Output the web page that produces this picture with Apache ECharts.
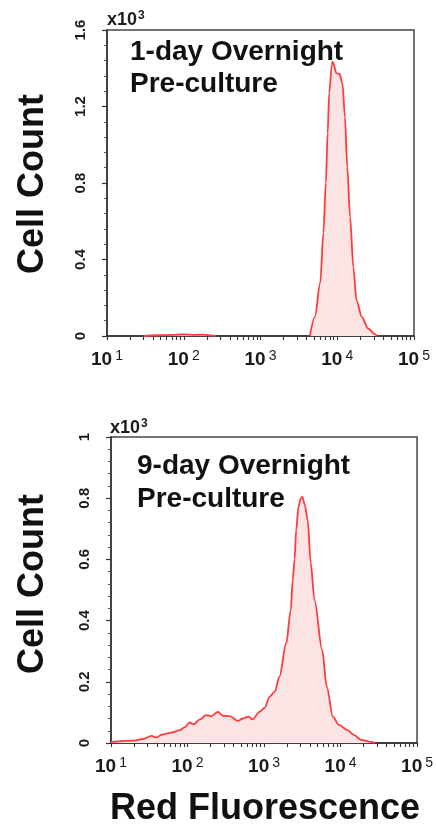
<!DOCTYPE html>
<html>
<head>
<meta charset="utf-8">
<script src="https://cdn.jsdelivr.net/npm/echarts@6/dist/echarts.min.js"></script>
<style>
  html, body { margin: 0; padding: 0; background: #fff; }
  #chart { width: 436px; height: 830px; }
</style>
</head>
<body>
<div id="chart"></div>
<script>
// fluorescence (x) vs cell count in thousands (y)
const day1Counts = [
  [30, 0], [45, 0.004], [70, 0.006], [100, 0.008], [140, 0.006], [180, 0.007], [230, 0.003], [260, 0],
  [300, '-'],
  [4400, 0], [5100, 0.099], [6000, 0.277], [6600, 0.54], [7100, 0.80], [7500, 1.06], [7850, 1.27],
  [8500, 1.417], [8700, 1.434], [9800, 1.373], [10700, 1.37], [11700, 1.32], [12600, 1.145],
  [13500, 0.884], [14700, 0.622], [16200, 0.36], [17800, 0.188], [20900, 0.10], [25100, 0.04],
  [30900, 0.01], [33100, 0]
];
const day9Counts = [
  [10, 0.004], [20, 0.008], [26, 0.013], [34, 0.023], [39, 0.018], [46, 0.027], [62, 0.034],
  [79, 0.042], [91, 0.051], [107, 0.067], [120, 0.061], [145, 0.077], [174, 0.091], [204, 0.088],
  [251, 0.102], [288, 0.089], [355, 0.088], [457, 0.072], [525, 0.080], [631, 0.086], [708, 0.077],
  [871, 0.102], [1020, 0.115], [1180, 0.151], [1380, 0.168], [1590, 0.217], [1950, 0.326],
  [2240, 0.435], [2370, 0.533], [2510, 0.60], [2630, 0.696], [2820, 0.772], [3000, 0.798],
  [3160, 0.805], [3400, 0.78], [3720, 0.729], [4070, 0.59], [4570, 0.467], [5750, 0.304],
  [6610, 0.184], [7940, 0.086], [9550, 0.059], [12300, 0.042], [15100, 0.026], [18600, 0.010],
  [25100, 0.004], [28000, 0]
];
const panelTitles = ['1-day Overnight\nPre-culture', '9-day Overnight\nPre-culture'];
const yMax = [1.6, 1];
const yStep = [0.4, 0.2];
const xMin = 10, xMax = 100000;

// x ticks: each decade plus log minor ticks 2..9
const xTicks = [];
for (let d = xMin; d <= xMax; d *= 10) {
  xTicks.push(d);
  if (d < xMax) for (let k = 2; k <= 9; k++) xTicks.push(d * k);
}

const FONT = "'Liberation Sans', Arial, sans-serif";
const ink = '#1b1b1b';
const lineRed = '#ff3b3b';
const fillPink = '#fde4e4';

const grids = [
  { left: 107, top: 30, width: 307, height: 306 },
  { left: 111, top: 437, width: 307, height: 306 }
];

let xAxes = [];
let yAxes = [];
grids.forEach((g, i) => {
  xAxes.push({
    type: 'log', logBase: 10, min: xMin, max: xMax, gridIndex: i, position: 'bottom',
    axisLine: { lineStyle: { color: '#333', width: 1.5 } },
    axisTick: { length: 4, customValues: xTicks, lineStyle: { color: '#333', width: 1.1 } },
    splitLine: { show: false },
    axisLabel: {
      margin: 13, color: ink,
      formatter: v => '{b|10}{s|' + Math.round(Math.log10(v)) + '}',
      rich: {
        b: { fontSize: 19, fontWeight: 'bold', fontFamily: FONT, color: ink, lineHeight: 22 },
        s: { fontSize: 14, fontFamily: FONT, color: ink, verticalAlign: 'top', lineHeight: 14, padding: [0, 0, 0, 3] }
      }
    }
  });
  yAxes.push({
    type: 'value', min: 0, max: yMax[i], interval: yStep[i], gridIndex: i,
    axisLine: { show: true, lineStyle: { color: '#333', width: 1.5 } },
    axisTick: { show: true, length: 5, lineStyle: { color: '#333', width: 1.2 } },
    minorTick: { show: true, splitNumber: 5, length: 3, lineStyle: { color: '#555', width: 1 } },
    splitLine: { show: false },
    axisLabel: { rotate: 90, margin: 19, fontSize: 15, fontWeight: 'bold', fontFamily: FONT, color: ink }
  });
});

const seriesStyle = {
  type: 'line', showSymbol: false, smooth: 0.3, smoothMonotone: 'x',
  lineStyle: { color: lineRed, width: 1.8 },
  areaStyle: { color: fillPink, opacity: 1 },
  connectNulls: false
};

const powerText = {
  text: '{b|x10}{s|3}',
  rich: {
    b: { font: 'bold 18px ' + FONT, fill: ink, lineHeight: 20 },
    s: { font: 'bold 12px ' + FONT, fill: ink, verticalAlign: 'top', lineHeight: 12, padding: [0, 0, 0, 1] }
  }
};

let chart = echarts.init(document.getElementById('chart'));
let option = {
  animation: false,
  grid: grids.map(g => Object.assign({ show: true, borderColor: '#444', borderWidth: 1.5, backgroundColor: 'transparent' }, g)),
  xAxis: xAxes,
  yAxis: yAxes,
  series: [
    Object.assign({}, seriesStyle, { xAxisIndex: 0, yAxisIndex: 0, data: day1Counts }),
    Object.assign({}, seriesStyle, { xAxisIndex: 1, yAxisIndex: 1, data: day9Counts })
  ],
  graphic: [
    { type: 'text', x: 107, y: 10, style: Object.assign({}, powerText) },
    { type: 'text', x: 110, y: 418, style: Object.assign({}, powerText) },
    { type: 'text', x: 130, y: 36, style: { text: panelTitles[0], font: 'bold 28px ' + FONT, lineHeight: 32, fill: '#111' } },
    { type: 'text', x: 137, y: 450, style: { text: panelTitles[1], font: 'bold 28px ' + FONT, lineHeight: 33, fill: '#111' } },
    { type: 'text', x: 33, y: 184, rotation: Math.PI / 2, style: { text: 'Cell Count', font: 'bold 36px ' + FONT, fill: '#111', align: 'center', verticalAlign: 'middle' } },
    { type: 'text', x: 33, y: 584, rotation: Math.PI / 2, style: { text: 'Cell Count', font: 'bold 36px ' + FONT, fill: '#111', align: 'center', verticalAlign: 'middle' } },
    { type: 'text', x: 265, y: 809, style: { text: 'Red Fluorescence', font: 'bold 36px ' + FONT, fill: '#111', align: 'center', verticalAlign: 'middle' } }
  ]
};
chart.setOption(option);
</script>
</body>
</html>
